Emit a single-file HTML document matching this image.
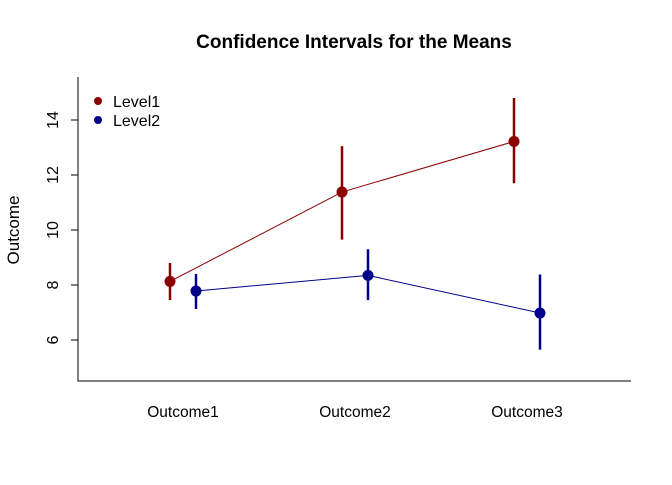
<!DOCTYPE html>
<html><head><meta charset="utf-8"><style>
body{margin:0;background:#fff;}
svg text{font-family:"Liberation Sans",Arial,sans-serif;}
</style></head><body>
<svg id="chart" width="672" height="480" viewBox="0 0 672 480">
<rect width="672" height="480" fill="#fff"/>
<text x="354" y="48" text-anchor="middle" font-size="19" font-weight="bold">Confidence Intervals for the Means</text>
<text x="19" y="230" text-anchor="middle" font-size="17" transform="rotate(-90 19 230)">Outcome</text>
<g id="axes"></g>
<g id="marks"></g>
<g>
<circle cx="98" cy="101" r="4" fill="#8B0000"/>
<text x="113" y="107" font-size="16">Level1</text>
<circle cx="98" cy="120" r="4" fill="#00008B"/>
<text x="113" y="126" font-size="16">Level2</text>
</g>
</svg>
<script>
const categories=["Outcome1","Outcome2","Outcome3"];
const level1Mean=[8.13,11.38,13.22];
const level1Lo=[7.45,9.65,11.7];
const level1Hi=[8.8,13.05,14.8];
const level2Mean=[7.78,8.35,6.98];
const level2Lo=[7.13,7.45,5.65];
const level2Hi=[8.4,9.3,8.38];
const yTicks=[6,8,10,12,14];
const NS="http://www.w3.org/2000/svg";
function y(v){return 285-(v-8)*27.5;}
function x(i){return 183+i*172;}
function mk(tag,attrs,parent){const e=document.createElementNS(NS,tag);for(const k in attrs)e.setAttribute(k,attrs[k]);parent.appendChild(e);return e;}
const axes=document.getElementById('axes');
let a=mk('path',{d:'M78,77V381H631',fill:'none',stroke:'#000','stroke-width':1},axes);


yTicks.forEach(t=>{
 const l=mk('line',{x1:71,x2:78,y1:y(t),y2:y(t),stroke:'#000'},axes);
 
 
 const tx=mk('text',{x:52,y:y(t),'font-size':16,'text-anchor':'middle',transform:`rotate(-90 52 ${y(t)})`,dy:6},axes);
 tx.textContent=t;
 
 
});
categories.forEach((c,i)=>{
 const tx=mk('text',{x:x(i),y:417,'font-size':15.5,'text-anchor':'middle'},axes);
 tx.textContent=c;
 
 
});
const marks=document.getElementById('marks');
function series(mean,lo,hi,off,col,name){
 const pts=mean.map((m,i)=>(x(i)+off)+','+y(m)).join(' ');
 const pl=mk('polyline',{points:pts,fill:'none',stroke:col,'stroke-width':1},marks);
 
 
 mean.forEach((m,i)=>{
  const e=mk('line',{x1:x(i)+off,x2:x(i)+off,y1:y(lo[i]),y2:y(hi[i]),stroke:col,'stroke-width':2.5},marks);
  
  
  const p=mk('circle',{cx:x(i)+off,cy:y(m),r:5.5,fill:col},marks);
  
  
 });
}
series(level1Mean,level1Lo,level1Hi,-13,'#8B0000','level1');
series(level2Mean,level2Lo,level2Hi,13,'#00008B','level2');
</script>
</body></html>
